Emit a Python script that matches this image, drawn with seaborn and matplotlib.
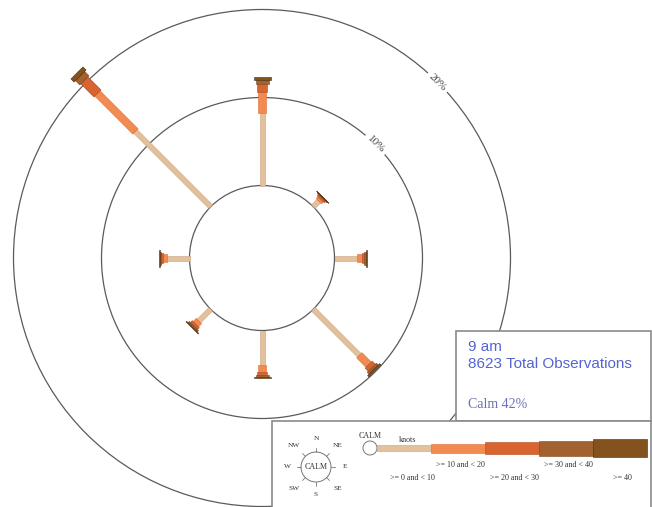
import numpy as np
import pandas as pd
import seaborn as sns
import matplotlib
matplotlib.use("Agg")
import matplotlib.pyplot as plt
from matplotlib.patches import Circle, Rectangle

# ---- data: percent of observations per direction and speed class (knots) ----
directions = ["N", "NE", "E", "SE", "S", "SW", "W", "NW"]
bearings = [0, 45, 90, 135, 180, 225, 270, 315]
speed_bins = [">= 0 and < 10", ">= 10 and < 20", ">= 20 and < 30",
              ">= 30 and < 40", ">= 40"]
pct_0_10 = [8.2, 0.9, 2.6, 7.4, 3.9, 1.9, 2.6, 12.1]
pct_10_20 = [2.4, 0.3, 0.5, 1.5, 0.8, 0.5, 0.4, 6.1]
pct_20_30 = [0.9, 0.2, 0.3, 0.5, 0.4, 0.3, 0.2, 2.1]
pct_30_40 = [0.5, 0.1, 0.2, 0.3, 0.2, 0.2, 0.2, 0.7]
pct_40_up = [0.3, 0.05, 0.1, 0.2, 0.1, 0.1, 0.1, 0.5]
ring_levels = [10, 20]
title_lines = ["9 am", "8623 Total Observations"]
calm_pct = 42

sns.set_theme(style="white")
palette = sns.color_palette(["#e4c09c", "#f38b50", "#d8642f", "#a2622f", "#84521f"])
edge_palette = sns.color_palette(["#c9a27c", "#d9703a", "#b24c1e", "#7e4620", "#4a2a0e"])
serif = ["Liberation Serif", "DejaVu Serif"]
sans = ["Liberation Sans", "DejaVu Sans"]

df = pd.DataFrame({"direction": directions, "bearing": bearings,
                   speed_bins[0]: pct_0_10, speed_bins[1]: pct_10_20,
                   speed_bins[2]: pct_20_30, speed_bins[3]: pct_30_40,
                   speed_bins[4]: pct_40_up})

fig = plt.figure(figsize=(6.52, 5.07), dpi=100)
ax = fig.add_axes([0, 0, 1, 1])
ax.set_xlim(0, 652)
ax.set_ylim(507, 0)
ax.axis("off")

cx, cy = 262, 258          # rose centre
calm_r = 72.5              # radius of the calm circle
px_per_pct = 8.8           # radial scale
arm_widths = [5, 7.5, 10, 13, 17]
ring_col = "#5a5a5a"


def unit(bearing):
    t = np.deg2rad(bearing)
    return np.array([np.sin(t), -np.cos(t)]), np.array([np.cos(t), np.sin(t)])


def bar_poly(origin, u, p, r0, r1, w):
    a = origin + u * r0
    b = origin + u * r1
    h = p * w / 2
    pts = np.array([a + h, b + h, b - h, a - h])
    return pts[:, 0], pts[:, 1]


# rings
ax.add_patch(Circle((cx, cy), calm_r, fill=False, ec=ring_col, lw=0.9, zorder=2))
for lvl in ring_levels:
    r = calm_r + lvl * px_per_pct
    ax.add_patch(Circle((cx, cy), r, fill=False, ec=ring_col, lw=0.9, zorder=1))
    u, _ = unit(45)
    x, y = np.array([cx, cy]) + u * r
    ax.text(x, y, f"{lvl}%", rotation=-45, ha="center", va="center",
            fontsize=8, family=serif, color="#444444", zorder=3,
            bbox=dict(boxstyle="square,pad=0.3", fc="white", ec="none"))

# arms
for _, row in df.iterrows():
    u, p = unit(row["bearing"])
    cum = 0.0
    for k, sb in enumerate(speed_bins):
        v = row[sb]
        r0 = calm_r + cum * px_per_pct
        cum += v
        r1 = calm_r + cum * px_per_pct
        xs, ys = bar_poly(np.array([cx, cy]), u, p, r0, r1, arm_widths[k])
        ax.fill(xs, ys, color=palette[k], ec=edge_palette[k], lw=0.4, zorder=4 + k)

# title box
ax.add_patch(Rectangle((456, 331), 195, 90, fc="white", ec="#8a8a8a", lw=1.2, zorder=20))
ax.text(468, 347, title_lines[0], fontsize=11, family=sans, color="#5564d2",
        va="center", zorder=21)
ax.text(468, 364, title_lines[1], fontsize=11, family=sans, color="#5564d2",
        va="center", zorder=21)
ax.text(468, 405, f"Calm {calm_pct}%", fontsize=10, family=serif, color="#6a70b6",
        va="center", zorder=21)

# legend box
ax.add_patch(Rectangle((272, 421), 379, 90, fc="white", ec="#8a8a8a", lw=1.2, zorder=20))
lz = 21
fs = 5.8
# mini compass
mx, my, mr = 316, 467, 15
ax.add_patch(Circle((mx, my), mr, fill=False, ec="#777777", lw=0.7, zorder=lz))
ax.text(mx, my, "CALM", fontsize=fs, family=serif, ha="center", va="center",
        color="#333333", zorder=lz)
for d, b in zip(directions, bearings):
    u, _ = unit(b)
    a = np.array([mx, my]) + u * mr
    e = np.array([mx, my]) + u * (mr + 4)
    ax.plot([a[0], e[0]], [a[1], e[1]], color="#777777", lw=0.6, zorder=lz)
    lr = 28 if len(d) == 1 else 31
    if b in (90, 270):
        lr = 29
    t = np.array([mx, my]) + u * lr
    ax.text(t[0], t[1], d, fontsize=fs - 0.5, family=serif, ha="center", va="center",
            color="#333333", zorder=lz)

# speed key
kx, ky, kr = 370, 448, 7
ax.add_patch(Circle((kx, ky), kr, fc="white", ec="#777777", lw=0.7, zorder=lz))
ax.text(kx, ky - 12, "CALM", fontsize=fs, family=serif, ha="center", va="center",
        color="#333333", zorder=lz)
ax.text(407, 440, "knots", fontsize=fs, family=serif, ha="center", va="center",
        color="#333333", zorder=lz)
key_widths = [6, 9, 12, 15, 18]
seg_len = 54
x0 = kx + kr
for k, sb in enumerate(speed_bins):
    xa, xb = x0 + k * seg_len, x0 + (k + 1) * seg_len
    w = key_widths[k]
    ax.fill([xa, xb, xb, xa], [ky - w / 2, ky - w / 2, ky + w / 2, ky + w / 2],
            color=palette[k], ec=edge_palette[k], lw=0.4, zorder=lz)
    ly = 478 if k % 2 == 0 else 465
    ax.text((xa + xb) / 2 + (8 if k == 0 else 2), ly, sb, fontsize=fs, family=serif,
            ha="center", va="center", color="#333333", zorder=lz)

fig.savefig("out.png", dpi=100)
